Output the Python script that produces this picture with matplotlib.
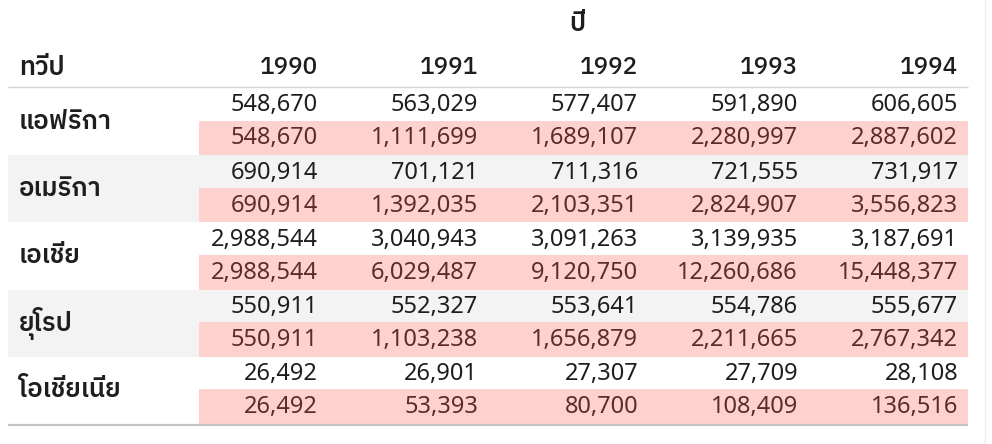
import matplotlib
matplotlib.use("Agg")
import matplotlib.pyplot as plt
from matplotlib.patches import Rectangle

# ---- data ----
years = ["1990", "1991", "1992", "1993", "1994"]
continents = ["แอฟริกา", "อเมริกา", "เอเชีย", "ยุโรป", "โอเชียเนีย"]
values_africa = [548670, 563029, 577407, 591890, 606605]
running_africa = [548670, 1111699, 1689107, 2280997, 2887602]
values_america = [690914, 701121, 711316, 721555, 731917]
running_america = [690914, 1392035, 2103351, 2824907, 3556823]
values_asia = [2988544, 3040943, 3091263, 3139935, 3187691]
running_asia = [2988544, 6029487, 9120750, 12260686, 15448377]
values_europe = [550911, 552327, 553641, 554786, 555677]
running_europe = [550911, 1103238, 1656879, 2211665, 2767342]
values_oceania = [26492, 26901, 27307, 27709, 28108]
running_oceania = [26492, 53393, 80700, 108409, 136516]
col_title = "ปี"
row_title = "ทวีป"

values = [values_africa, values_america, values_asia, values_europe, values_oceania]
running = [running_africa, running_america, running_asia, running_europe, running_oceania]

FAM = ["Noto Sans", "Noto Sans Thai", "DejaVu Sans"]
FAM_TH = ["IBM Plex Sans Thai", "Noto Sans Thai", "DejaVu Sans"]
W, H = 992, 444
fig = plt.figure(figsize=(W / 100, H / 100), dpi=100)
ax = fig.add_axes([0, 0, 1, 1])
ax.set_xlim(0, W)
ax.set_ylim(H, 0)
ax.axis("off")

top = 88.0
block = 67.2
half = block / 2
left = 8
right = 968
pink_left = 199
col_right = [318 + 160 * i for i in range(len(years))]

txt = "#1e1e1e"
pink_txt = "#5e2a2a"
pink = "#fdd1ce"
grey = "#f3f3f3"
fs_num = 17

ax.text(577, 24, col_title, ha="center", va="center", fontsize=18.5, family=FAM_TH,
        color=txt, fontweight="semibold")
ax.text(19, 68, row_title, ha="left", va="center", fontsize=18.5, family=FAM_TH,
        color=txt, fontweight="semibold")
for j, yr in enumerate(years):
    ax.text(col_right[j], 68, yr, ha="right", va="center", fontsize=17.5,
            family=FAM_TH, color=txt, fontweight="medium")
ax.plot([left, right], [87, 87], color="#d4d4d4", lw=1.0, solid_capstyle="butt")

for i, cname in enumerate(continents):
    y0 = top + i * block
    if i % 2 == 1:
        ax.add_patch(Rectangle((left, y0), right - left, block, facecolor=grey,
                               edgecolor="none", zorder=0))
    ax.add_patch(Rectangle((pink_left, y0 + half - 1), right - pink_left, half + 1,
                           facecolor=pink, edgecolor="none", zorder=1))
    ax.text(19, y0 + half, cname, ha="left", va="center", fontsize=18.5, family=FAM_TH,
            color=txt, fontweight="semibold", zorder=3)
    for j in range(len(years)):
        ax.text(col_right[j], y0 + half / 2 + 0.5, f"{values[i][j]:,}", ha="right",
                va="center", fontsize=fs_num, family=FAM, color=txt, zorder=3)
        ax.text(col_right[j], y0 + half + half / 2, f"{running[i][j]:,}", ha="right",
                va="center", fontsize=fs_num, family=FAM, color=pink_txt, zorder=3)

ax.plot([left, right], [425, 425], color="#c4c4c4", lw=1.6, solid_capstyle="butt")
ax.plot([985, 985], [0, H], color="#ececec", lw=1.0)

fig.savefig("out.png", dpi=100)
